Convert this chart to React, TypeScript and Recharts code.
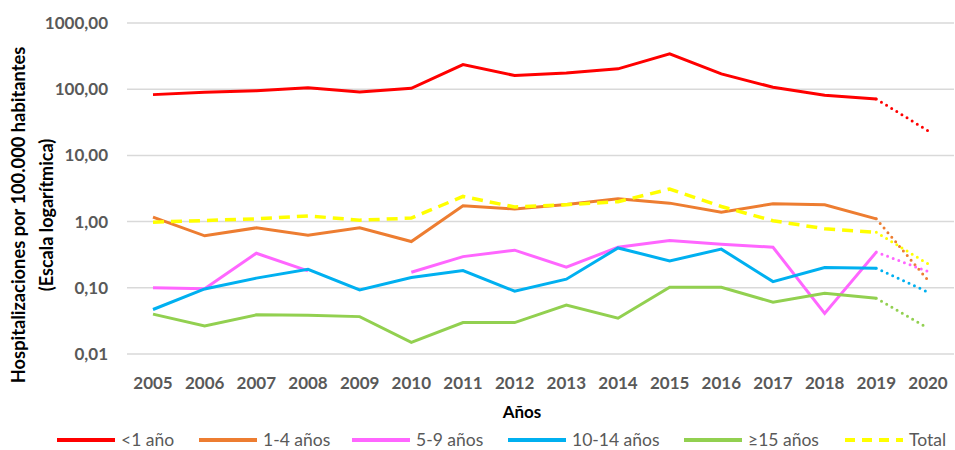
import React from 'react';
import { LineChart, Line, XAxis, YAxis, CartesianGrid, Legend } from 'recharts';

const years = ['2005', '2006', '2007', '2008', '2009', '2010', '2011', '2012', '2013', '2014', '2015', '2016', '2017', '2018', '2019', '2020'];

// 2005-2019 values (solid / dashed part); 2020 value drawn as dotted segment from 2019
const menor1 = [82.8, 89.8, 95, 105, 91, 103, 235, 161, 176, 203, 342, 170, 107, 81, 71];
const menor1_2020 = 23.6;
const de1a4 = [1.17, 0.61, 0.805, 0.625, 0.805, 0.5, 1.73, 1.55, 1.82, 2.21, 1.9, 1.39, 1.86, 1.79, 1.1];
const de1a4_2020 = 0.13;
const de5a9: (number | null)[] = [0.1, 0.097, 0.333, 0.18, null, 0.172, 0.296, 0.37, 0.205, 0.41, 0.52, 0.456, 0.41, 0.041, 0.346];
const de5a9_2020 = 0.176;
const de10a14 = [0.047, 0.096, 0.14, 0.19, 0.093, 0.143, 0.182, 0.089, 0.135, 0.4, 0.255, 0.384, 0.124, 0.202, 0.198];
const de10a14_2020 = 0.086;
const mas15 = [0.04, 0.0265, 0.039, 0.0385, 0.0367, 0.015, 0.0298, 0.0298, 0.055, 0.0347, 0.102, 0.102, 0.0605, 0.083, 0.0697];
const mas15_2020 = 0.0245;
const total = [0.98, 1.04, 1.1, 1.22, 1.05, 1.13, 2.4, 1.66, 1.8, 2.0, 3.1, 1.69, 1.03, 0.78, 0.69];
const total_2020 = 0.23;

const yTicks = [0.01, 0.1, 1, 10, 100, 1000];

const series = [
  { key: 'menor1', name: '<1 año', color: '#ff0000', vals: menor1, last: menor1_2020 },
  { key: 'de1a4', name: '1-4 años', color: '#ed7d31', vals: de1a4, last: de1a4_2020 },
  { key: 'de5a9', name: '5-9 años', color: '#ff66ff', vals: de5a9, last: de5a9_2020 },
  { key: 'de10a14', name: '10-14 años', color: '#00b0f0', vals: de10a14, last: de10a14_2020 },
  { key: 'mas15', name: '≥15 años', color: '#92d050', vals: mas15, last: mas15_2020 },
  { key: 'total', name: 'Total', color: '#ffff00', vals: total, last: total_2020 },
];

const data = years.map((year, i) => {
  const row: Record<string, any> = { year };
  series.forEach((s) => {
    row[s.key] = i < s.vals.length ? s.vals[i] : null;
    row[s.key + '_p'] = i === years.length - 2 ? s.vals[i] : i === years.length - 1 ? s.last : null;
  });
  return row;
});

const FONT = 'Lato, "Noto Sans", sans-serif';

const legendPos = [57, 199, 352, 508, 684, 845];

const LegendContent = () => (
  <div style={{ position: 'relative', width: 955, height: 24, fontFamily: FONT, fontSize: 17.5, color: '#595959' }}>
    {series.map((s, i) => (
      <div
        key={s.key}
        style={{
          position: 'absolute',
          left: legendPos[i],
          top: 0,
          height: 24,
          paddingTop: 4,
          boxSizing: 'border-box',
          display: 'flex',
          alignItems: 'center',
          whiteSpace: 'nowrap',
        }}
      >
        <svg width={58} height={6} style={{ marginRight: 6 }}>
          <line x1={0} y1={3} x2={58} y2={3} stroke={s.color} strokeWidth={4} strokeDasharray={s.key === 'total' ? '10 7' : undefined} />
        </svg>
        <span style={{ lineHeight: '18px' }}>{s.name}</span>
      </div>
    ))}
  </div>
);

const YTitle = () => (
  <g>
    <text transform="translate(18,215) rotate(-90)" textAnchor="middle" dominantBaseline="central" fontFamily={FONT} fontWeight="bold" fontSize={18.3} fill="#000">
      Hospitalizaciones por 100.000 habitantes
    </text>
    <text transform="translate(46,215) rotate(-90)" textAnchor="middle" dominantBaseline="central" fontFamily={FONT} fontWeight="bold" fontSize={18} fill="#000">
      (Escala logarítmica)
    </text>
  </g>
);

const XTitle = () => (
  <text x={522} y={411} textAnchor="middle" dominantBaseline="central" fontFamily={FONT} fontWeight="bold" fontSize={17} fill="#000">
    Años
  </text>
);

const fmt = (v: number) => v.toFixed(2).replace('.', ',');

export default function App() {
  return (
    <div style={{ position: 'absolute', left: 0, top: 0, background: '#fff' }}>
      <LineChart width={955} height={450} data={data} margin={{ top: 23, right: 1, left: 0, bottom: 0 }}>
        <CartesianGrid vertical={false} stroke="#d9d9d9" strokeWidth={1.5} />
        <XAxis
          dataKey="year"
          axisLine={false}
          tickLine={false}
          tickSize={0}
          tickMargin={23}
          height={72}
          padding={{ left: 26, right: 26 }}
          interval={0}
          tick={{ fontFamily: FONT, fontWeight: 'bold', fontSize: 17, fill: '#595959' }}
          label={{ content: XTitle }}
        />
        <YAxis
          scale="log"
          domain={[0.01, 1000]}
          ticks={yTicks}
          allowDataOverflow
          width={127}
          axisLine={false}
          tickLine={false}
          tickSize={0}
          tickMargin={19}
          tickFormatter={fmt}
          tick={{ fontFamily: FONT, fontWeight: 'bold', fontSize: 17, fill: '#595959' }}
          label={{ content: YTitle }}
        />
        <Legend verticalAlign="bottom" height={24} content={LegendContent} />
        {series.map((s) => (
          <Line
            key={s.key}
            dataKey={s.key}
            name={s.name}
            stroke={s.color}
            strokeWidth={s.key === 'total' ? 3.5 : 3}
            strokeDasharray={s.key === 'total' ? '11 7' : undefined}
            dot={false}
            activeDot={false}
            connectNulls={false}
            isAnimationActive={false}
            type="linear"
          />
        ))}
        {series.map((s) => (
          <Line
            key={s.key + '_p'}
            dataKey={s.key + '_p'}
            legendType="none"
            stroke={s.color}
            strokeWidth={3}
            strokeDasharray="0 6"
            strokeLinecap="round"
            dot={false}
            activeDot={false}
            connectNulls={false}
            isAnimationActive={false}
            type="linear"
          />
        ))}
      </LineChart>
    </div>
  );
}
